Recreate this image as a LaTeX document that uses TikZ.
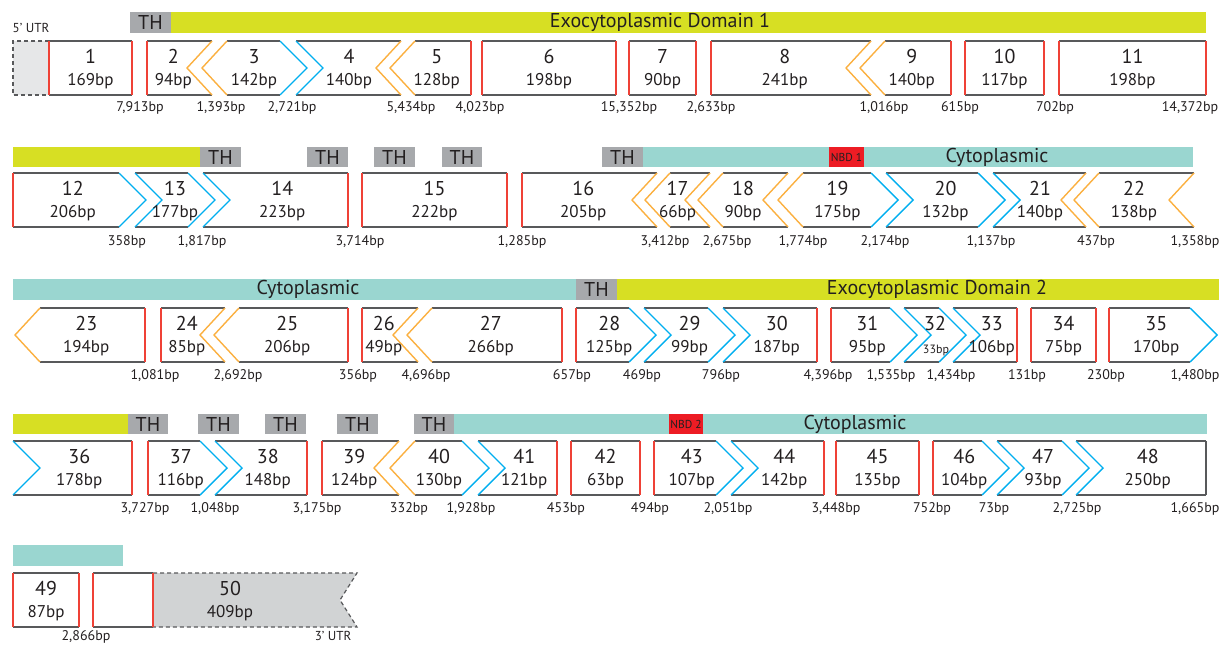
\documentclass[tikz,border=0pt]{standalone}
\usepackage{fontspec}
\setmainfont{PT Sans}

\definecolor{txt}{HTML}{231F20}
\definecolor{exoyellow}{HTML}{D7DF23}
\definecolor{cytocyan}{HTML}{9AD6D0}
\definecolor{thgray}{HTML}{A7A9AC}
\definecolor{exred}{HTML}{EF4136}
\definecolor{exblue}{HTML}{00AEEF}
\definecolor{exorange}{HTML}{FBB040}
\definecolor{exgray}{HTML}{58595B}
\definecolor{utrlight}{HTML}{E6E7E8}
\definecolor{utrdark}{HTML}{D1D3D4}
\definecolor{nbdred}{HTML}{ED1C24}

\tikzset{
  boxline/.style={draw=exgray, line width=1.4pt},
  redline/.style={draw=exred, line width=1.4pt},
  blueline/.style={draw=exblue, line width=1.4pt},
  orangeline/.style={draw=exorange, line width=1.4pt},
  utrline/.style={draw=exgray, line width=1.2pt, dash pattern=on 4pt off 3pt},
  numtext/.style={font=\fontsize{20}{24}\selectfont, text=txt, inner sep=0pt},
  bptext/.style={font=\fontsize{17}{20}\selectfont, text=txt, inner sep=0pt},
  smallbp/.style={font=\fontsize{12}{14}\selectfont, text=txt, inner sep=0pt},
  intron/.style={font=\fontsize{14}{16}\selectfont, text=txt, inner sep=0pt},
  utrtext/.style={font=\fontsize{13}{15}\selectfont, text=txt, inner sep=0pt},
  thbox/.style={fill=thgray, font=\fontsize{20}{24}\selectfont, text=txt, inner sep=0pt},
  domtext/.style={font=\fontsize{20}{24}\selectfont, text=txt, inner sep=0pt},
  nbdbox/.style={fill=nbdred, font=\fontsize{11.5}{13}\selectfont, text=txt, inner sep=0pt},
}

% chevron offsets (tip relative to the corner x) for each edge kind
\def\offLR{0}\def\offLB{27}\def\offLO{-25}
\def\offRR{0}\def\offRB{27}\def\offRO{-25}\def\offRK{0}

% left edges: #1 corner x, #2 tip x
\newcommand\edgeLR[2]{\draw[redline] (#1,\yt) -- (#1,\ybot);}
\newcommand\edgeLB[2]{\draw[blueline] (#1,\yt) -- (#2,\ymid) -- (#1,\ybot);}
\newcommand\edgeLO[2]{\draw[orangeline] (#1,\yt) -- (#2,\ymid) -- (#1,\ybot);}
% right edges
\newcommand\edgeRR[2]{\draw[redline] (#1,\yt) -- (#1,\ybot);}
\newcommand\edgeRK[2]{\draw[boxline] (#1,\yt) -- (#1,\ybot);}
\newcommand\edgeRB[2]{\draw[blueline] (#1,\yt) -- (#2,\ymid) -- (#1,\ybot);}
\newcommand\edgeRO[2]{\draw[orangeline] (#1,\yt) -- (#2,\ymid) -- (#1,\ybot);}

\newcommand\setrow[1]{%
  \pgfmathsetmacro\yt{#1}%
  \pgfmathsetmacro\ymid{#1+27}%
  \pgfmathsetmacro\ybot{#1+54}}

% exon: #1 name, #2 left x, #3 right x, #4 left kind, #5 right kind, #6 number, #7 length
\newcommand\exon[7]{%
  \pgfmathsetmacro\xtipL{#2+\csname offL#4\endcsname}%
  \pgfmathsetmacro\xtipR{#3+\csname offR#5\endcsname}%
  \pgfmathsetmacro\xc{((#2+\xtipL)/2+(#3+\xtipR)/2)/2}%
  \draw[boxline] (#2,\yt) -- (#3,\yt) (#2,\ybot) -- (#3,\ybot);
  \csname edgeL#4\endcsname{#2}{\xtipL}%
  \csname edgeR#5\endcsname{#3}{\xtipR}%
  \node[numtext] (#1n) at (\xc,\yt+15.5) {#6};
  \node[bptext] (#1b) at (\xc,\yt+40) {#7};
}

\newcommand\thlabel[5]{%
  \node[thbox, minimum width={#3-#2}, minimum height={#5-#4}] (#1) at ({(#2+#3)/2},{(#4+#5)/2}) {TH};}

\begin{document}
\begin{tikzpicture}[x=1pt,y=-1pt]
\useasboundingbox (0,0) rectangle (1228,645);

%% ---------------- row 1 ----------------
\fill[exoyellow] (171,12) rectangle (1206,33);
\thlabel{th1}{130}{171}{12}{33}
\node[domtext] (dom1) at (660,22.5) {Exocytoplasmic Domain 1};

\node[utrtext] (utr5) at (31,28) {5’ UTR};
\fill[utrlight] (13,41) rectangle (49,95);
\draw[utrline] (49,41) -- (13,41) -- (13,95) -- (49,95);

\setrow{41}
\exon{e1}{49}{132}{R}{R}{1}{169bp}
\exon{e2}{147}{212}{R}{O}{2}{94bp}
\exon{e3}{227}{280}{O}{B}{3}{142bp}
\exon{e4}{296}{401}{B}{O}{4}{140bp}
\exon{e5}{415}{471}{O}{R}{5}{128bp}
\exon{e6}{482}{616}{R}{R}{6}{198bp}
\exon{e7}{629}{696}{R}{R}{7}{90bp}
\exon{e8}{711}{871}{R}{O}{8}{241bp}
\exon{e9}{885}{951}{O}{R}{9}{140bp}
\exon{e10}{965}{1044}{R}{R}{10}{117bp}
\exon{e11}{1059}{1206}{R}{R}{11}{198bp}

\foreach \x/\t [count=\i] in {140/{7,913bp},221/{1,393bp},292/{2,721bp},411/{5,434bp},480/{4,023bp},629/{15,352bp},711/{2,633bp},884/{1,016bp},960/{615bp},1055/{702bp},1190/{14,372bp}}
  \node[intron] (ia\i) at (\x,107.5) {\t};

%% ---------------- row 2 ----------------
\fill[exoyellow] (13,147) rectangle (200,167);
\fill[cytocyan] (643,147) rectangle (1193,167);
\thlabel{th2}{200}{241}{147}{167}
\thlabel{th3}{307}{348}{147}{167}
\thlabel{th4}{374}{415}{147}{167}
\thlabel{th5}{442}{482}{147}{167}
\thlabel{th6}{602}{643}{147}{167}
\node[nbdbox, minimum width=35, minimum height=20] (nbd1) at (846.5,157) {NBD 1};
\node[domtext] (cyto1) at (997,157) {Cytoplasmic};

\setrow{173}
\exon{e12}{13}{119}{R}{B}{12}{206bp}
\exon{e13}{135}{188}{B}{B}{13}{177bp}
\exon{e14}{203}{348}{B}{R}{14}{223bp}
\exon{e15}{362}{507}{R}{R}{15}{222bp}
\exon{e16}{522}{657}{R}{O}{16}{205bp}
\exon{e17}{670}{710}{O}{O}{17}{66bp}
\exon{e18}{723}{788}{O}{O}{18}{90bp}
\exon{e19}{803}{871}{O}{B}{19}{175bp}
\exon{e20}{886}{978}{B}{B}{20}{132bp}
\exon{e21}{993}{1086}{B}{O}{21}{140bp}
\exon{e22}{1099}{1194}{O}{O}{22}{138bp}

\foreach \x/\t [count=\i] in {127/{358bp},202/{1,817bp},360/{3,714bp},522/{1,285bp},665/{3,412bp},727/{2,675bp},803/{1,774bp},885/{2,174bp},991/{1,137bp},1096/{437bp},1195/{1,358bp}}
  \node[intron] (ib\i) at (\x,242) {\t};

%% ---------------- row 3 ----------------
\fill[cytocyan] (13,279) rectangle (576,300);
\fill[exoyellow] (617,279) rectangle (1219,300);
\thlabel{th7}{576}{617}{279}{300}
\node[domtext] (cyto2) at (308,289.5) {Cytoplasmic};
\node[domtext] (dom2) at (937,289.5) {Exocytoplasmic Domain 2};

\setrow{308}
\exon{e23}{40}{145}{O}{R}{23}{194bp}
\exon{e24}{161}{225}{R}{O}{24}{85bp}
\exon{e25}{239}{348}{O}{R}{25}{206bp}
\exon{e26}{362}{418}{R}{O}{26}{49bp}
\exon{e27}{432}{562}{O}{R}{27}{266bp}
\exon{e28}{576}{629}{R}{B}{28}{125bp}
\exon{e29}{644}{708}{B}{B}{29}{99bp}
\exon{e30}{723}{817}{B}{R}{30}{187bp}
\exon{e31}{831}{890}{R}{B}{31}{95bp}
\exon{e32}{904}{939}{B}{B}{32}{}
\node[smallbp] (e32s) at (936,350) {33bp};
\exon{e33}{953}{1017}{B}{R}{33}{106bp}
\exon{e34}{1031}{1096}{R}{R}{34}{75bp}
\exon{e35}{1109}{1190}{R}{B}{35}{170bp}

\foreach \x/\t [count=\i] in {155/{1,081bp},238/{2,692bp},358/{356bp},426/{4,696bp},572/{657bp},642/{469bp},721/{796bp},828/{4,396bp},891/{1,535bp},951/{1,434bp},1027/{131bp},1106/{230bp},1195/{1,480bp}}
  \node[intron] (ic\i) at (\x,376) {\t};

%% ---------------- row 4 ----------------
\fill[exoyellow] (13,414) rectangle (128,434);
\fill[cytocyan] (454,414) rectangle (1207,434);
\thlabel{th8}{128}{168}{414}{434}
\thlabel{th9}{198}{239}{414}{434}
\thlabel{th10}{265}{306}{414}{434}
\thlabel{th11}{337}{378}{414}{434}
\thlabel{th12}{414}{454}{414}{434}
\node[nbdbox, minimum width=34, minimum height=20] (nbd2) at (686,424) {NBD 2};
\node[domtext] (cyto3) at (855,424) {Cytoplasmic};

\setrow{441}
\exon{e36}{13}{132}{B}{R}{36}{178bp}
\exon{e37}{148}{200}{R}{B}{37}{116bp}
\exon{e38}{215}{307}{B}{R}{38}{148bp}
\exon{e39}{322}{399}{R}{O}{39}{124bp}
\exon{e40}{415}{462}{O}{B}{40}{130bp}
\exon{e41}{478}{557}{B}{R}{41}{121bp}
\exon{e42}{571}{640}{R}{R}{42}{63bp}
\exon{e43}{654}{716}{R}{B}{43}{107bp}
\exon{e44}{731}{824}{B}{R}{44}{142bp}
\exon{e45}{836}{919}{R}{R}{45}{135bp}
\exon{e46}{933}{982}{R}{B}{46}{104bp}
\exon{e47}{997}{1062}{B}{B}{47}{93bp}
\exon{e48}{1076}{1206}{B}{K}{48}{250bp}

\foreach \x/\t [count=\i] in {145/{3,727bp},215/{1,048bp},317/{3,175bp},409/{332bp},471/{1,928bp},566/{453bp},650/{494bp},728/{2,051bp},836/{3,448bp},932/{752bp},994/{73bp},1077/{2,725bp},1195/{1,665bp}}
  \node[intron] (id\i) at (\x,509) {\t};

%% ---------------- row 5 ----------------
\fill[cytocyan] (13,545) rectangle (123,566);

\setrow{573}
\exon{e49}{13}{79}{R}{R}{49}{87bp}

% exon 50: coding part followed by the 3' UTR
\fill[utrdark] (153,573) -- (357,573) -- (340,600) -- (357,627) -- (153,627) -- cycle;
\draw[utrline] (153,573) -- (357,573) -- (340,600) -- (357,627) -- (153,627);
\draw[boxline] (93,573) -- (153,573) (93,627) -- (153,627);
\draw[redline] (93,573) -- (93,627);
\draw[redline] (153,573) -- (153,627);
\node[numtext] (e50n) at (230,588.5) {50};
\node[bptext] (e50b) at (230,613) {409bp};

\node[intron] (ie1) at (86,637) {2,866bp};
\node[utrtext] (utr3) at (333,636) {3’ UTR};

\end{tikzpicture}
\end{document}
